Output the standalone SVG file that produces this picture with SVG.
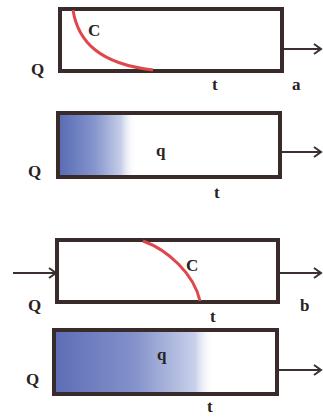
<svg xmlns="http://www.w3.org/2000/svg" width="323" height="417" viewBox="0 0 323 417">
<style>
.box{fill:none;stroke:#3a2b2b;stroke-width:4}
.curve{fill:none;stroke:#e0474c;stroke-width:3}
.ln{fill:none;stroke:#3a3030;stroke-width:2}
.lbl{font-family:"Liberation Serif",serif;font-weight:bold;font-size:17px;fill:#2a2222}
</style>
<defs>
<marker id="ah" markerWidth="10" markerHeight="12" refX="8" refY="6" orient="auto" markerUnits="userSpaceOnUse">
<path d="M1,1 L8,6 L1,11" fill="none" stroke="#3a3030" stroke-width="2"/>
</marker>
<linearGradient id="g1" x1="0" y1="0" x2="1" y2="0">
<stop offset="0" stop-color="#5a6db4"/>
<stop offset="0.45" stop-color="#8494cc"/>
<stop offset="0.8" stop-color="#c5cde8"/>
<stop offset="1" stop-color="#ffffff" stop-opacity="0"/>
</linearGradient>
<linearGradient id="g2" x1="0" y1="0" x2="1" y2="0">
<stop offset="0" stop-color="#5d6eb5"/>
<stop offset="0.5" stop-color="#8492cb"/>
<stop offset="0.88" stop-color="#c8d0ea"/>
<stop offset="1" stop-color="#ffffff" stop-opacity="0"/>
</linearGradient>
</defs>
<g id="connectors">
<line class="ln" x1="282" y1="49" x2="321" y2="49" marker-end="url(#ah)"/>
<line class="ln" x1="280" y1="152" x2="321" y2="152" marker-end="url(#ah)"/>
<line class="ln" x1="13" y1="273" x2="56" y2="273" marker-end="url(#ah)"/>
<line class="ln" x1="278" y1="273" x2="321" y2="273" marker-end="url(#ah)"/>
<line class="ln" x1="277" y1="370" x2="321" y2="370" marker-end="url(#ah)"/>
</g>
<g id="box-a">
<rect class="box" x="60" y="9" width="222" height="62"/>
<path class="curve" d="M73,10 C78,42 100,64 153,70"/>
<text class="lbl" x="88" y="36">C</text>
<text class="lbl" x="31" y="75">Q</text>
<text class="lbl" x="212" y="90">t</text>
<text class="lbl" x="292" y="90">a</text>
</g>
<g id="box-q1">
<rect x="60" y="115" width="76" height="60" fill="url(#g1)"/>
<rect class="box" x="58" y="113" width="222" height="64"/>
<text class="lbl" x="156" y="156">q</text>
<text class="lbl" x="28" y="177">Q</text>
<text class="lbl" x="214" y="198">t</text>
</g>
<g id="box-b">
<rect class="box" x="57" y="240" width="221" height="62"/>
<path class="curve" d="M143,241 C168,250 194,274 200,301"/>
<text class="lbl" x="186" y="271">C</text>
<text class="lbl" x="28" y="311">Q</text>
<text class="lbl" x="210" y="322">t</text>
<text class="lbl" x="300" y="311">b</text>
</g>
<g id="box-q2">
<rect x="56" y="332" width="158" height="60" fill="url(#g2)"/>
<rect class="box" x="54" y="330" width="223" height="64"/>
<text class="lbl" x="157" y="360">q</text>
<text class="lbl" x="26" y="385">Q</text>
<text class="lbl" x="207" y="412">t</text>
</g>
</svg>
